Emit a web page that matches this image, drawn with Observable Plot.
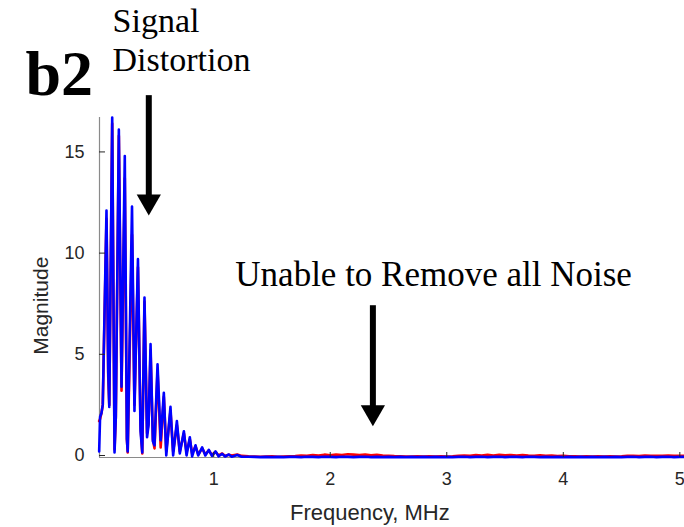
<!DOCTYPE html>
<html><head><meta charset="utf-8">
<script src="https://cdn.jsdelivr.net/npm/d3@7"></script>
<script src="https://cdn.jsdelivr.net/npm/@observablehq/plot@0.6"></script>
<style>body{margin:0;background:#fff}</style>
</head><body><div id="chart"></div>
<script>
// Spectrum: main lobe region (MHz)
const mainFreq = [0.017,0.025,0.037,0.048,0.080,0.095,0.104,0.129,0.149,0.160,0.186,0.209,0.237,0.255,0.262,0.299,0.320,0.350,0.372,0.387,0.406,0.428,0.441,0.458,0.478,0.492,0.518,0.545,0.572,0.593,0.629,0.652,0.684,0.709,0.744,0.767,0.795,0.815,0.844,0.867,0.901,0.928,0.958,0.985,1.016,1.042,1.073,1.098,1.130,1.155,1.202,1.24,1.30];
const mainBlue = [0.3,2.0,2.2,2.6,12.2,4.2,2.5,16.8,0.25,2.0,16.2,3.5,14.9,0.9,0.3,12.4,2.3,9.8,1.3,0.25,7.9,1.0,1.6,5.6,0.8,0.6,4.6,0.85,3.2,0.1,2.5,0.1,1.8,0.2,1.3,0.1,1.0,0.05,0.6,0.1,0.5,0.1,0.38,0.08,0.3,0.06,0.18,0.05,0.15,0.04,0.12,0.04,0.04];
const mainRed = [1.8,1.9,2.2,2.6,11.8,4.0,2.6,16.5,0.4,2.0,15.9,3.3,13.8,0.9,0.25,11.0,2.6,9.4,1.6,0.2,7.7,1.2,1.7,5.3,0.9,0.45,4.3,0.5,3.0,0.3,2.3,0.3,1.6,0.3,1.2,0.25,0.9,0.2,0.55,0.15,0.45,0.15,0.35,0.12,0.28,0.1,0.2,0.08,0.14,0.1,0.15,0.08,0.06];
// Tail region (noise floor)
const tailFreq = [1.35,1.40,1.45,1.50,1.55,1.60,1.65,1.70,1.75,1.80,1.85,1.90,1.95,2.00,2.05,2.10,2.15,2.20,2.25,2.30,2.35,2.40,2.45,2.50,2.55,2.60,2.65,2.70,2.75,2.80,2.85,2.90,2.95,3.00,3.05,3.10,3.15,3.20,3.25,3.30,3.35,3.40,3.45,3.50,3.55,3.60,3.65,3.70,3.75,3.80,3.85,3.90,3.95,4.00,4.05,4.10,4.15,4.20,4.25,4.30,4.35,4.40,4.45,4.50,4.55,4.60,4.65,4.70,4.75,4.80,4.85,4.90,4.95,5.00,5.04];
const tailBlue = [.03,.02,.03,.02,.03,.02,.03,.03,.02,.04,.03,.02,.04,.03,.02,.04,.03,.02,.03,.04,.02,.03,.02,.03,.02,.03,.02,.03,.02,.03,.02,.03,.02,.03,.02,.03,.04,.02,.03,.04,.02,.03,.04,.02,.03,.03,.02,.04,.03,.02,.03,.02,.03,.02,.03,.02,.03,.02,.03,.02,.03,.02,.03,.02,.03,.04,.02,.03,.04,.02,.03,.04,.02,.03,.03];
const tailRed = [.05,.04,.05,.06,.04,.05,.06,.07,.10,.09,.12,.10,.14,.11,.15,.12,.16,.14,.12,.15,.11,.13,.10,.09,.07,.06,.05,.05,.06,.05,.06,.05,.06,.05,.06,.08,.10,.09,.12,.10,.13,.10,.13,.11,.12,.10,.12,.10,.09,.11,.08,.10,.07,.09,.06,.06,.05,.06,.05,.06,.05,.06,.05,.06,.08,.09,.07,.10,.08,.09,.08,.10,.08,.09,.08];

const xTicks = [1,2,3,4,5];
const yTicks = [0,5,10,15];
const xDomain = [0.02, 5.04];
const yDomain = [0, 16.8];

// Annotations and axis titles (data coordinates)
const arrowX = [0.443, 2.366];
const arrowTop = [17.88, 7.50];
const arrowHead = [12.65, 2.23];
const labelB2 = {text: "b2", x: -0.615, y: 17.9};
const labelSignal = {text: "Signal\nDistortion", x: 0.132, y: 19.12};
const labelNoise = {text: "Unable to Remove all Noise", x: 2.887, y: 8.49};
const titleX = {text: "Frequency, MHz", x: 2.34, y: -3.07};
const titleY = {text: "Magnitude", x: -0.425, y: 7.5};

const freq = mainFreq.concat(tailFreq);
const blue = mainBlue.concat(tailBlue);
const red = mainRed.concat(tailRed);
const redRows = freq.map((f, i) => ({f, m: red[i]}));
const blueRows = freq.map((f, i) => ({f, m: blue[i]}));
const arrows = arrowX.map((x, i) => ({x, top: arrowTop[i], head: arrowHead[i]}));

const serif = "'Liberation Serif', 'Times New Roman', serif";

const chart = Plot.plot({
  width: 684, height: 527,
  marginTop: 117, marginBottom: 70, marginLeft: 99, marginRight: 0,
  style: {fontFamily: "'Liberation Sans', Arial, sans-serif", fontSize: "18px", color: "#262626", background: "#fff", overflow: "visible"},
  x: {domain: xDomain},
  y: {domain: yDomain},
  marks: [
    Plot.ruleY([yDomain[0]], {stroke: "#8a8a8a", strokeWidth: 1.2}),
    Plot.ruleX([xDomain[0]], {stroke: "#8a8a8a", strokeWidth: 1.2}),
    Plot.line(redRows, {x: "f", y: "m", stroke: "#ff0000", strokeWidth: 2.6}),
    Plot.line(blueRows, {x: "f", y: "m", stroke: "#0000ff", strokeWidth: 2.6}),
    Plot.axisX({ticks: xTicks, tickSize: -5, tickPadding: 20, tickFormat: d => String(d), label: null, stroke: "#262626", fill: "#262626"}),
    Plot.axisY({ticks: yTicks, tickSize: -6, tickPadding: 21, tickFormat: d => String(d), label: null, stroke: "#262626", fill: "#262626", dy: -2}),
    Plot.text([titleX], {x: "x", y: "y", text: "text", textAnchor: "middle", lineAnchor: "bottom", fontSize: 22, fill: "#262626"}),
    Plot.text([titleY], {x: "x", y: "y", text: "text", textAnchor: "middle", lineAnchor: "bottom", rotate: -90, fontSize: 21, fill: "#262626"}),
    Plot.ruleX(arrows, {x: "x", y1: "top", y2: "head", stroke: "#000", strokeWidth: 6}),
    Plot.dot(arrows, {x: "x", y: "head", symbol: "triangle", r: 9, fill: "#000", stroke: "none", rotate: 180}),
    Plot.text([labelB2], {x: "x", y: "y", text: "text", textAnchor: "start", lineAnchor: "bottom", fontFamily: serif, fontWeight: "bold", fontSize: 64, fill: "#000"}),
    Plot.text([labelSignal], {x: "x", y: "y", text: "text", textAnchor: "start", lineAnchor: "bottom", lineHeight: 1.13, fontFamily: serif, fontSize: 34, fill: "#000"}),
    Plot.text([labelNoise], {x: "x", y: "y", text: "text", textAnchor: "middle", lineAnchor: "bottom", fontFamily: serif, fontSize: 35, fill: "#000"})
  ]
});
document.getElementById("chart").appendChild(chart);
</script>
</body></html>
